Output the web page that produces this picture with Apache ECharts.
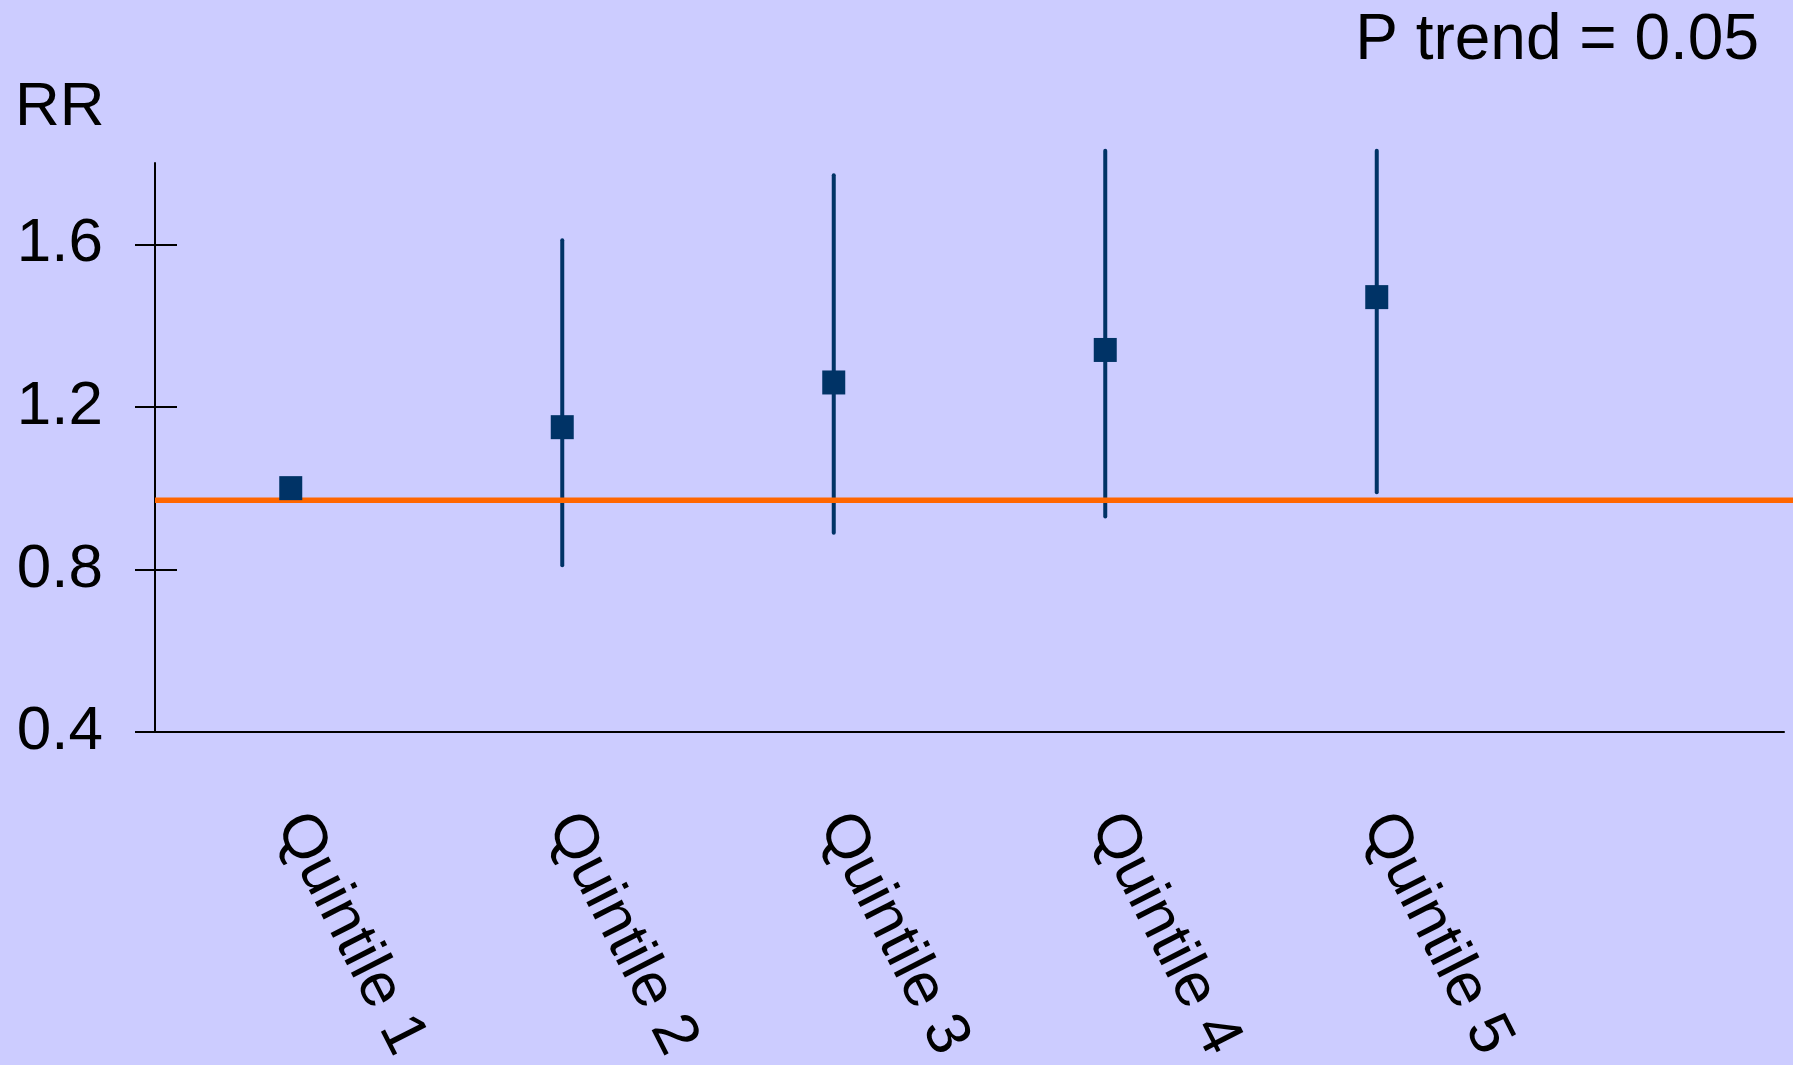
<!DOCTYPE html>
<html>
<head>
<meta charset="utf-8">
<script src="https://cdn.jsdelivr.net/npm/echarts@6/dist/echarts.min.js"></script>
<style>
  html, body { margin: 0; padding: 0; background: #ccccff; }
  #main { width: 1793px; height: 1065px; }
</style>
</head>
<body>
<div id="main"></div>
<script>
// 数据
var categories = ['Quintile 1', 'Quintile 2', 'Quintile 3', 'Quintile 4', 'Quintile 5', '']
var rr = [1.0, 1.15, 1.26, 1.34, 1.47]
var lower = [null, 0.81, 0.89, 0.93, 0.99]
var upper = [null, 1.61, 1.77, 1.83, 1.83]
var yTicks = [0.4, 0.8, 1.2, 1.6]
var refLine = [0.97]
var pTrend = 'P trend = 0.05'

var font = 'Liberation Sans, Arial, sans-serif'
var navy = '#003366'

var ciData = []
for (var i = 0; i < rr.length; i++) {
    if (lower[i] != null) ciData.push([i, lower[i], upper[i]])
}

var myChart = echarts.init(document.getElementById('main'))

var option = {
    backgroundColor: '#ccccff',
    animation: false,
    grid: { left: 155, right: 9, top: 163, bottom: 333, outerBoundsMode: 'none', containLabel: false },
    graphic: [
        { type: 'text', left: 15, top: 77, style: { text: 'RR', font: '62px ' + font, fill: '#000' } },
        { type: 'text', right: 34, top: 9, style: { text: pTrend, font: '64px ' + font, fill: '#000' } }
    ],
    xAxis: {
        type: 'category',
        data: categories,
        boundaryGap: true,
        axisLine: { lineStyle: { color: '#000', width: 2 } },
        axisTick: { show: false },
        axisLabel: {
            interval: 0,
            rotate: -63,
            margin: 85,
            color: '#000',
            fontSize: 62,
            fontFamily: font
        }
    },
    yAxis: [
        {
            type: 'value',
            min: 0.4, max: 1.8, interval: 0.4,
            splitLine: { show: false },
            axisLine: { show: true, lineStyle: { color: '#000', width: 2 } },
            axisTick: { show: true, length: 20, customValues: yTicks, lineStyle: { color: '#000', width: 2 } },
            axisLabel: {
                customValues: yTicks,
                margin: 52,
                color: '#000',
                fontSize: 62,
                fontFamily: font,
                formatter: function (v) { return v.toFixed(1) }
            }
        },
        {
            // 轴内侧的刻度
            type: 'value',
            position: 'left',
            min: 0.4, max: 1.8, interval: 0.4,
            splitLine: { show: false },
            axisLine: { show: false },
            axisLabel: { show: false },
            axisTick: { show: true, inside: true, length: 22, customValues: yTicks, lineStyle: { color: '#000', width: 2 } }
        }
    ],
    series: [
        {
            // 置信区间
            type: 'custom',
            z: 2,
            clip: false,
            data: ciData,
            renderItem: function (params, api) {
                var lo = api.coord([api.value(0), api.value(1)])
                var hi = api.coord([api.value(0), api.value(2)])
                return {
                    type: 'line',
                    shape: { x1: lo[0], y1: lo[1], x2: hi[0], y2: hi[1] },
                    style: { stroke: navy, lineWidth: 4, lineCap: 'round' }
                }
            }
        },
        {
            // 参考线 RR≈1, 延伸到画布右边
            type: 'custom',
            z: 3,
            clip: false,
            data: refLine,
            encode: { y: 0 },
            renderItem: function (params, api) {
                var y = api.coord([0, api.value(0)])[1]
                return {
                    type: 'line',
                    shape: { x1: params.coordSys.x, y1: y, x2: api.getWidth(), y2: y },
                    style: { stroke: '#ff6600', lineWidth: 5.5 }
                }
            }
        },
        {
            type: 'scatter',
            z: 4,
            data: rr,
            symbol: 'rect',
            symbolSize: [23, 24],
            itemStyle: { color: navy, opacity: 1 }
        }
    ]
}

myChart.setOption(option)
</script>
</body>
</html>
